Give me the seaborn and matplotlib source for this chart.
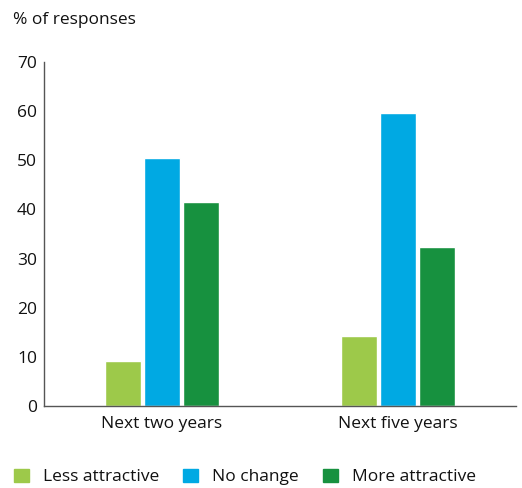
import pandas as pd
import matplotlib.pyplot as plt
import seaborn as sns

# values
periods = ["Next two years", "Next five years"]
less_attractive = [9.2, 14.2]
no_change = [50.5, 59.6]
more_attractive = [41.5, 32.4]
series_names = ["Less attractive", "No change", "More attractive"]
colors = ["#9dc94a", "#00a9e3", "#17913f"]

df = pd.DataFrame({
    "period": periods * 3,
    "series": [s for s in series_names for _ in periods],
    "value": less_attractive + no_change + more_attractive,
})

sns.set_style("white")
plt.rcParams["font.family"] = ["Open Sans", "DejaVu Sans"]
txt = "#111111"
fs = 12.5

fig = plt.figure(figsize=(5.22, 4.88), dpi=100)
ax = fig.add_axes([44 / 522, 1 - 406 / 488, (516 - 44) / 522, (406 - 62) / 488])

sns.barplot(data=df, x="period", y="value", hue="series", order=periods,
            hue_order=series_names, palette=colors, width=0.5, gap=0.08,
            saturation=1, ax=ax, legend=False)

ax.set_xlim(-0.5, 1.5)
ax.set_ylim(0, 70)
ax.set_yticks(range(0, 71, 10))
ax.set_xlabel("")
ax.set_ylabel("")
ax.tick_params(axis="both", length=0, labelsize=fs, colors=txt)
ax.tick_params(axis="y", pad=5)
ax.tick_params(axis="x", pad=7)
sns.despine(ax=ax)
for side in ["left", "bottom"]:
    ax.spines[side].set_color("#555555")
    ax.spines[side].set_linewidth(1)

fig.text(13 / 522, 1 - 20 / 488, "% of responses", fontsize=fs,
         va="center", ha="left", color=txt)

handles = [plt.Rectangle((0, 0), 1, 1, color=c) for c in colors]
fig.legend(handles, series_names, loc="center left",
           bbox_to_anchor=(14 / 522, 1 - 477 / 488),
           ncol=3, frameon=False, fontsize=fs, handlelength=0.86,
           handleheight=0.86, handletextpad=0.8, columnspacing=1.4,
           borderpad=0, borderaxespad=0, labelcolor=txt)

fig.savefig("out.png", dpi=100)
